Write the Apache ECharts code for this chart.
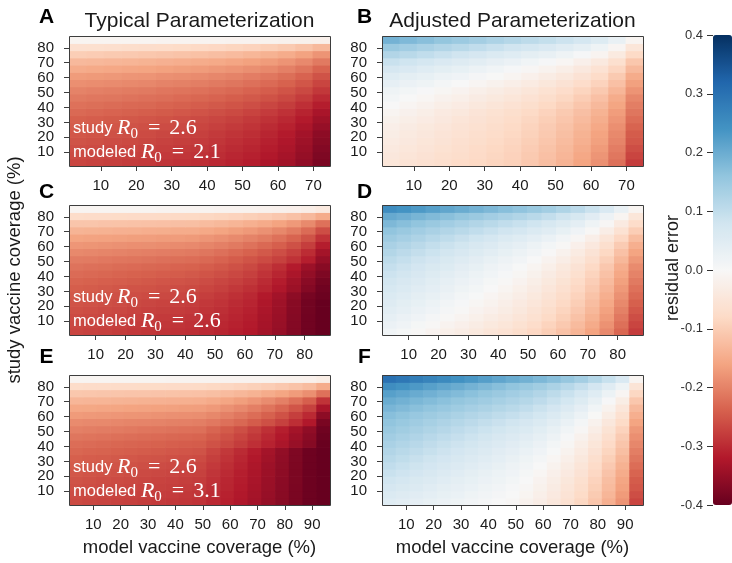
<!DOCTYPE html>
<html><head><meta charset="utf-8">
<script src="https://cdn.jsdelivr.net/npm/echarts@6/dist/echarts.min.js"></script>
<style>html,body{margin:0;padding:0;background:#fff}#c{width:732px;height:563px}</style>
</head><body><div id="c"></div>
<script>
// study vaccine coverage (row centres, %), bottom -> top
const studyCoverage = [3.22, 8.06, 12.90, 17.74, 22.58, 27.41, 32.25, 37.09, 41.93, 46.77, 51.61, 56.45, 61.29, 66.13, 70.96, 75.80, 80.64, 85.48];
// model vaccine coverage (column centres, %)
const modelCoverageAB = [3.46, 8.37, 13.28, 18.19, 23.10, 28.02, 32.93, 37.84, 42.75, 47.67, 52.58, 57.49, 62.40, 67.31, 72.22];
const modelCoverageCD = [3.49, 8.35, 13.21, 18.06, 22.92, 27.78, 32.64, 37.50, 42.35, 47.21, 52.07, 56.93, 61.79, 66.64, 71.50, 76.36, 81.22, 86.07];
const modelCoverageEF = [3.61, 8.63, 13.65, 18.67, 23.69, 28.72, 33.74, 38.76, 43.78, 48.80, 53.82, 58.84, 63.86, 68.88, 73.90, 78.93, 83.95, 88.97, 93.99];

const yTicks = [10, 20, 30, 40, 50, 60, 70, 80];
const xTicksAB = [10, 20, 30, 40, 50, 60, 70];
const xTicksCD = [10, 20, 30, 40, 50, 60, 70, 80];
const xTicksEF = [10, 20, 30, 40, 50, 60, 70, 80, 90];

const studyR0 = '2.6';
const modeledR0 = ['2.1', '2.6', '3.1'];
const titles = ['Typical Parameterization', 'Adjusted Parameterization'];
const letters = ['A', 'B', 'C', 'D', 'E', 'F'];

// residual error, rows bottom -> top
const panelA = [
[-0.27,-0.273,-0.277,-0.28,-0.283,-0.288,-0.292,-0.296,-0.302,-0.309,-0.316,-0.326,-0.338,-0.356,-0.38],
[-0.265,-0.268,-0.272,-0.275,-0.278,-0.283,-0.287,-0.291,-0.297,-0.304,-0.311,-0.321,-0.333,-0.351,-0.375],
[-0.26,-0.263,-0.267,-0.27,-0.273,-0.278,-0.282,-0.286,-0.292,-0.299,-0.306,-0.316,-0.328,-0.346,-0.37],
[-0.255,-0.258,-0.262,-0.265,-0.268,-0.273,-0.277,-0.281,-0.287,-0.294,-0.301,-0.311,-0.323,-0.341,-0.365],
[-0.25,-0.253,-0.257,-0.26,-0.263,-0.268,-0.272,-0.276,-0.282,-0.289,-0.296,-0.306,-0.318,-0.336,-0.36],
[-0.245,-0.248,-0.251,-0.255,-0.258,-0.262,-0.266,-0.27,-0.276,-0.282,-0.289,-0.299,-0.31,-0.327,-0.35],
[-0.24,-0.243,-0.246,-0.249,-0.252,-0.256,-0.26,-0.264,-0.269,-0.275,-0.282,-0.291,-0.302,-0.318,-0.34],
[-0.23,-0.233,-0.236,-0.239,-0.242,-0.246,-0.25,-0.254,-0.259,-0.265,-0.272,-0.281,-0.292,-0.308,-0.33],
[-0.22,-0.223,-0.226,-0.229,-0.231,-0.235,-0.239,-0.243,-0.248,-0.253,-0.26,-0.269,-0.279,-0.294,-0.315],
[-0.21,-0.213,-0.215,-0.218,-0.221,-0.224,-0.228,-0.232,-0.236,-0.242,-0.248,-0.256,-0.266,-0.28,-0.30],
[-0.20,-0.203,-0.205,-0.208,-0.21,-0.214,-0.217,-0.22,-0.225,-0.23,-0.236,-0.243,-0.253,-0.266,-0.285],
[-0.185,-0.188,-0.19,-0.193,-0.195,-0.199,-0.202,-0.205,-0.21,-0.215,-0.221,-0.228,-0.238,-0.251,-0.27],
[-0.17,-0.173,-0.175,-0.178,-0.18,-0.184,-0.187,-0.19,-0.195,-0.2,-0.206,-0.213,-0.223,-0.236,-0.255],
[-0.15,-0.153,-0.155,-0.158,-0.16,-0.164,-0.167,-0.17,-0.175,-0.18,-0.186,-0.193,-0.203,-0.216,-0.235],
[-0.13,-0.132,-0.135,-0.137,-0.14,-0.143,-0.146,-0.149,-0.153,-0.158,-0.164,-0.171,-0.18,-0.192,-0.21],
[-0.10,-0.102,-0.105,-0.107,-0.11,-0.113,-0.116,-0.119,-0.123,-0.128,-0.134,-0.141,-0.15,-0.162,-0.18],
[-0.065,-0.067,-0.069,-0.071,-0.073,-0.075,-0.078,-0.081,-0.084,-0.088,-0.092,-0.098,-0.105,-0.116,-0.13],
[-0.01,-0.01,-0.01,-0.01,-0.01,-0.011,-0.011,-0.012,-0.012,-0.013,-0.014,-0.015,-0.016,-0.018,-0.02]
];
const panelB = [
[-0.05,-0.056,-0.063,-0.069,-0.076,-0.082,-0.089,-0.095,-0.108,-0.123,-0.139,-0.16,-0.184,-0.221,-0.28],
[-0.045,-0.052,-0.059,-0.066,-0.072,-0.079,-0.086,-0.093,-0.105,-0.12,-0.135,-0.155,-0.178,-0.213,-0.27],
[-0.04,-0.047,-0.054,-0.061,-0.069,-0.076,-0.083,-0.09,-0.102,-0.116,-0.131,-0.15,-0.172,-0.206,-0.26],
[-0.035,-0.042,-0.05,-0.057,-0.065,-0.072,-0.08,-0.087,-0.098,-0.111,-0.126,-0.144,-0.165,-0.198,-0.25],
[-0.03,-0.038,-0.045,-0.053,-0.06,-0.068,-0.075,-0.083,-0.094,-0.107,-0.122,-0.14,-0.161,-0.193,-0.245],
[-0.025,-0.033,-0.041,-0.049,-0.056,-0.064,-0.072,-0.08,-0.091,-0.103,-0.117,-0.134,-0.154,-0.185,-0.235],
[-0.018,-0.026,-0.034,-0.042,-0.051,-0.059,-0.067,-0.075,-0.086,-0.098,-0.111,-0.128,-0.147,-0.177,-0.225],
[-0.01,-0.019,-0.027,-0.036,-0.044,-0.053,-0.061,-0.07,-0.08,-0.092,-0.105,-0.121,-0.14,-0.169,-0.215],
[0,-0.009,-0.017,-0.026,-0.034,-0.043,-0.051,-0.06,-0.07,-0.082,-0.095,-0.111,-0.13,-0.159,-0.205],
[0.01,0.001,-0.007,-0.016,-0.024,-0.033,-0.041,-0.05,-0.06,-0.072,-0.085,-0.101,-0.12,-0.149,-0.195],
[0.02,0.011,0.003,-0.006,-0.014,-0.023,-0.031,-0.04,-0.05,-0.061,-0.074,-0.089,-0.107,-0.135,-0.18],
[0.035,0.026,0.018,0.009,0.001,-0.008,-0.016,-0.025,-0.035,-0.046,-0.059,-0.074,-0.092,-0.12,-0.165],
[0.05,0.041,0.033,0.024,0.016,0.007,-0.001,-0.01,-0.02,-0.031,-0.044,-0.059,-0.077,-0.105,-0.15],
[0.07,0.061,0.051,0.042,0.033,0.024,0.014,0.005,-0.005,-0.015,-0.027,-0.042,-0.06,-0.087,-0.13],
[0.09,0.081,0.071,0.062,0.053,0.044,0.034,0.025,0.015,0.005,-0.007,-0.022,-0.04,-0.067,-0.11],
[0.12,0.11,0.10,0.09,0.08,0.07,0.06,0.05,0.041,0.031,0.019,0.005,-0.012,-0.038,-0.08],
[0.15,0.14,0.13,0.12,0.11,0.10,0.09,0.08,0.071,0.061,0.049,0.035,0.018,-0.008,-0.05],
[0.19,0.179,0.169,0.158,0.147,0.137,0.126,0.115,0.106,0.096,0.085,0.071,0.055,0.03,-0.01]
];
const panelC = [
[-0.27,-0.273,-0.276,-0.279,-0.283,-0.286,-0.289,-0.292,-0.295,-0.3,-0.306,-0.313,-0.32,-0.335,-0.35,-0.37,-0.39,-0.40],
[-0.267,-0.27,-0.273,-0.276,-0.28,-0.283,-0.286,-0.289,-0.292,-0.297,-0.303,-0.31,-0.318,-0.333,-0.348,-0.369,-0.389,-0.40],
[-0.263,-0.266,-0.269,-0.272,-0.276,-0.279,-0.282,-0.285,-0.288,-0.294,-0.299,-0.307,-0.315,-0.331,-0.346,-0.368,-0.389,-0.40],
[-0.258,-0.261,-0.264,-0.267,-0.271,-0.274,-0.277,-0.28,-0.283,-0.289,-0.295,-0.303,-0.311,-0.327,-0.344,-0.366,-0.388,-0.40],
[-0.253,-0.256,-0.259,-0.262,-0.266,-0.269,-0.272,-0.275,-0.278,-0.284,-0.29,-0.299,-0.307,-0.324,-0.341,-0.365,-0.388,-0.40],
[-0.248,-0.251,-0.254,-0.257,-0.26,-0.263,-0.266,-0.269,-0.272,-0.278,-0.284,-0.293,-0.302,-0.319,-0.336,-0.359,-0.383,-0.395],
[-0.242,-0.245,-0.248,-0.251,-0.254,-0.256,-0.259,-0.262,-0.265,-0.27,-0.276,-0.284,-0.293,-0.306,-0.323,-0.344,-0.369,-0.39],
[-0.235,-0.238,-0.241,-0.243,-0.246,-0.249,-0.252,-0.254,-0.257,-0.262,-0.269,-0.276,-0.285,-0.299,-0.316,-0.338,-0.363,-0.385],
[-0.227,-0.23,-0.232,-0.235,-0.238,-0.24,-0.243,-0.245,-0.248,-0.253,-0.259,-0.267,-0.276,-0.29,-0.306,-0.328,-0.353,-0.375],
[-0.218,-0.221,-0.223,-0.226,-0.228,-0.231,-0.233,-0.236,-0.238,-0.243,-0.249,-0.257,-0.266,-0.28,-0.296,-0.318,-0.343,-0.365],
[-0.207,-0.209,-0.212,-0.214,-0.216,-0.218,-0.221,-0.223,-0.225,-0.23,-0.236,-0.244,-0.253,-0.263,-0.275,-0.291,-0.313,-0.35],
[-0.193,-0.195,-0.197,-0.199,-0.202,-0.204,-0.206,-0.208,-0.21,-0.215,-0.221,-0.229,-0.238,-0.248,-0.26,-0.276,-0.298,-0.335],
[-0.177,-0.179,-0.181,-0.183,-0.185,-0.186,-0.188,-0.19,-0.192,-0.197,-0.203,-0.21,-0.219,-0.229,-0.241,-0.257,-0.278,-0.315],
[-0.16,-0.162,-0.163,-0.165,-0.167,-0.168,-0.17,-0.171,-0.173,-0.178,-0.184,-0.191,-0.199,-0.208,-0.22,-0.235,-0.255,-0.29],
[-0.138,-0.14,-0.141,-0.143,-0.144,-0.146,-0.147,-0.149,-0.15,-0.154,-0.16,-0.167,-0.174,-0.183,-0.194,-0.208,-0.227,-0.26],
[-0.112,-0.113,-0.115,-0.116,-0.117,-0.118,-0.12,-0.121,-0.122,-0.126,-0.131,-0.137,-0.144,-0.151,-0.161,-0.174,-0.191,-0.22],
[-0.075,-0.076,-0.077,-0.078,-0.079,-0.079,-0.08,-0.081,-0.082,-0.085,-0.088,-0.092,-0.097,-0.102,-0.109,-0.118,-0.13,-0.15],
[-0.01,-0.01,-0.01,-0.01,-0.01,-0.01,-0.011,-0.011,-0.012,-0.012,-0.013,-0.014,-0.015,-0.017,-0.019,-0.022,-0.028,-0.04]
];
const panelD = [
[0.015,0.006,-0.004,-0.013,-0.023,-0.032,-0.041,-0.051,-0.06,-0.071,-0.084,-0.1,-0.117,-0.137,-0.161,-0.192,-0.232,-0.28],
[0.025,0.016,0.006,-0.003,-0.013,-0.022,-0.031,-0.041,-0.05,-0.061,-0.074,-0.09,-0.107,-0.127,-0.151,-0.182,-0.222,-0.27],
[0.035,0.026,0.016,0.007,-0.003,-0.012,-0.021,-0.031,-0.04,-0.051,-0.064,-0.08,-0.097,-0.117,-0.141,-0.172,-0.212,-0.26],
[0.045,0.035,0.026,0.016,0.007,-0.003,-0.013,-0.022,-0.032,-0.043,-0.056,-0.071,-0.089,-0.108,-0.132,-0.163,-0.202,-0.25],
[0.052,0.042,0.033,0.023,0.013,0.004,-0.006,-0.015,-0.025,-0.036,-0.049,-0.064,-0.081,-0.1,-0.124,-0.154,-0.193,-0.24],
[0.06,0.05,0.041,0.031,0.021,0.011,0.002,-0.008,-0.018,-0.029,-0.041,-0.056,-0.073,-0.092,-0.116,-0.145,-0.183,-0.23],
[0.068,0.058,0.049,0.039,0.029,0.019,0.01,0.0,-0.01,-0.021,-0.033,-0.048,-0.065,-0.084,-0.107,-0.136,-0.174,-0.22],
[0.076,0.066,0.056,0.046,0.036,0.026,0.016,0.006,-0.004,-0.014,-0.027,-0.041,-0.058,-0.076,-0.099,-0.128,-0.165,-0.21],
[0.085,0.075,0.065,0.055,0.045,0.034,0.024,0.014,0.004,-0.006,-0.018,-0.033,-0.049,-0.067,-0.09,-0.118,-0.155,-0.2],
[0.095,0.085,0.074,0.064,0.054,0.043,0.033,0.022,0.012,0.002,-0.01,-0.024,-0.041,-0.059,-0.081,-0.109,-0.146,-0.19],
[0.105,0.095,0.084,0.074,0.064,0.053,0.043,0.032,0.022,0.012,0.0,-0.013,-0.029,-0.047,-0.069,-0.096,-0.132,-0.175],
[0.118,0.107,0.097,0.086,0.076,0.065,0.054,0.044,0.033,0.023,0.012,-0.002,-0.017,-0.035,-0.056,-0.083,-0.118,-0.16],
[0.13,0.119,0.109,0.098,0.088,0.077,0.066,0.056,0.045,0.036,0.024,0.011,-0.004,-0.022,-0.042,-0.069,-0.103,-0.145],
[0.145,0.134,0.124,0.113,0.103,0.092,0.081,0.071,0.06,0.051,0.04,0.027,0.012,-0.005,-0.025,-0.051,-0.084,-0.125],
[0.16,0.15,0.14,0.13,0.12,0.11,0.10,0.09,0.08,0.071,0.06,0.048,0.033,0.017,-0.003,-0.028,-0.06,-0.1],
[0.18,0.17,0.16,0.15,0.14,0.13,0.12,0.11,0.10,0.091,0.081,0.068,0.054,0.039,0.019,-0.005,-0.037,-0.075],
[0.205,0.196,0.186,0.177,0.168,0.158,0.149,0.139,0.13,0.121,0.11,0.098,0.083,0.067,0.047,0.022,-0.01,-0.05],
[0.25,0.24,0.23,0.22,0.21,0.20,0.19,0.18,0.17,0.161,0.15,0.138,0.123,0.107,0.087,0.062,0.03,-0.01]
];
const panelE = [
[-0.265,-0.268,-0.271,-0.273,-0.276,-0.279,-0.282,-0.284,-0.287,-0.29,-0.301,-0.312,-0.323,-0.336,-0.351,-0.365,-0.38,-0.395,-0.40],
[-0.262,-0.265,-0.268,-0.27,-0.273,-0.276,-0.279,-0.281,-0.284,-0.287,-0.298,-0.31,-0.321,-0.334,-0.349,-0.364,-0.38,-0.394,-0.40],
[-0.258,-0.261,-0.264,-0.266,-0.269,-0.272,-0.275,-0.277,-0.28,-0.283,-0.295,-0.306,-0.318,-0.332,-0.347,-0.363,-0.379,-0.394,-0.40],
[-0.255,-0.258,-0.261,-0.263,-0.266,-0.269,-0.272,-0.274,-0.277,-0.28,-0.292,-0.304,-0.316,-0.33,-0.346,-0.362,-0.378,-0.394,-0.40],
[-0.25,-0.253,-0.256,-0.258,-0.261,-0.264,-0.267,-0.269,-0.272,-0.275,-0.288,-0.3,-0.313,-0.328,-0.344,-0.36,-0.378,-0.394,-0.40],
[-0.245,-0.248,-0.251,-0.253,-0.256,-0.259,-0.262,-0.264,-0.267,-0.27,-0.283,-0.296,-0.309,-0.325,-0.342,-0.358,-0.377,-0.394,-0.40],
[-0.24,-0.243,-0.245,-0.248,-0.25,-0.253,-0.255,-0.258,-0.26,-0.263,-0.277,-0.29,-0.304,-0.321,-0.338,-0.356,-0.375,-0.393,-0.40],
[-0.232,-0.235,-0.237,-0.24,-0.242,-0.245,-0.247,-0.25,-0.252,-0.255,-0.27,-0.284,-0.299,-0.316,-0.335,-0.354,-0.374,-0.393,-0.40],
[-0.225,-0.227,-0.229,-0.232,-0.234,-0.236,-0.238,-0.241,-0.243,-0.245,-0.256,-0.266,-0.279,-0.294,-0.309,-0.328,-0.348,-0.367,-0.398],
[-0.215,-0.217,-0.219,-0.222,-0.224,-0.226,-0.228,-0.231,-0.233,-0.235,-0.246,-0.257,-0.27,-0.286,-0.302,-0.321,-0.342,-0.363,-0.395],
[-0.203,-0.205,-0.207,-0.209,-0.211,-0.214,-0.216,-0.218,-0.22,-0.222,-0.234,-0.246,-0.259,-0.276,-0.293,-0.313,-0.335,-0.356,-0.39],
[-0.19,-0.192,-0.193,-0.195,-0.197,-0.198,-0.2,-0.202,-0.203,-0.205,-0.212,-0.221,-0.231,-0.244,-0.258,-0.275,-0.296,-0.321,-0.38],
[-0.172,-0.174,-0.175,-0.177,-0.179,-0.18,-0.182,-0.184,-0.185,-0.187,-0.194,-0.203,-0.213,-0.225,-0.239,-0.256,-0.277,-0.301,-0.36],
[-0.155,-0.156,-0.158,-0.159,-0.161,-0.162,-0.164,-0.165,-0.167,-0.168,-0.174,-0.183,-0.192,-0.204,-0.217,-0.233,-0.252,-0.275,-0.33],
[-0.135,-0.136,-0.137,-0.138,-0.139,-0.141,-0.142,-0.143,-0.144,-0.145,-0.151,-0.158,-0.167,-0.177,-0.189,-0.203,-0.22,-0.241,-0.29],
[-0.11,-0.111,-0.112,-0.113,-0.114,-0.114,-0.115,-0.116,-0.117,-0.118,-0.122,-0.127,-0.133,-0.14,-0.149,-0.159,-0.171,-0.185,-0.22],
[-0.075,-0.076,-0.076,-0.077,-0.077,-0.078,-0.078,-0.079,-0.079,-0.08,-0.083,-0.086,-0.091,-0.095,-0.101,-0.108,-0.116,-0.126,-0.15],
[-0.01,-0.01,-0.01,-0.01,-0.01,-0.01,-0.01,-0.011,-0.011,-0.012,-0.012,-0.013,-0.013,-0.014,-0.015,-0.016,-0.018,-0.02,-0.03]
];
const panelF = [
[0.05,0.044,0.038,0.032,0.026,0.019,0.013,0.007,0.001,-0.005,-0.016,-0.029,-0.045,-0.063,-0.085,-0.111,-0.143,-0.18,-0.27],
[0.06,0.053,0.047,0.04,0.033,0.027,0.02,0.013,0.007,0.0,-0.01,-0.023,-0.039,-0.057,-0.078,-0.104,-0.135,-0.172,-0.26],
[0.07,0.063,0.056,0.048,0.041,0.034,0.027,0.019,0.012,0.005,-0.005,-0.018,-0.033,-0.051,-0.072,-0.097,-0.128,-0.163,-0.25],
[0.08,0.072,0.064,0.057,0.049,0.041,0.033,0.026,0.018,0.01,0.0,-0.013,-0.028,-0.046,-0.067,-0.092,-0.123,-0.158,-0.245],
[0.09,0.082,0.074,0.065,0.057,0.049,0.041,0.032,0.024,0.016,0.006,-0.007,-0.022,-0.039,-0.059,-0.084,-0.115,-0.15,-0.235],
[0.1,0.091,0.083,0.074,0.065,0.057,0.048,0.039,0.031,0.022,0.012,0.0,-0.015,-0.032,-0.052,-0.077,-0.106,-0.141,-0.225],
[0.11,0.101,0.092,0.083,0.074,0.066,0.057,0.048,0.039,0.03,0.02,0.008,-0.007,-0.024,-0.044,-0.068,-0.097,-0.132,-0.215],
[0.12,0.111,0.102,0.093,0.084,0.074,0.065,0.056,0.047,0.038,0.028,0.016,0.002,-0.015,-0.035,-0.059,-0.088,-0.122,-0.205],
[0.13,0.121,0.112,0.102,0.093,0.084,0.075,0.065,0.056,0.047,0.037,0.025,0.011,-0.006,-0.026,-0.05,-0.079,-0.113,-0.195],
[0.14,0.131,0.122,0.112,0.103,0.094,0.085,0.075,0.066,0.057,0.047,0.035,0.021,0.004,-0.016,-0.04,-0.069,-0.103,-0.185],
[0.15,0.141,0.132,0.123,0.114,0.104,0.095,0.086,0.077,0.068,0.058,0.046,0.032,0.015,-0.005,-0.029,-0.058,-0.092,-0.175],
[0.16,0.151,0.142,0.133,0.124,0.116,0.107,0.098,0.089,0.08,0.07,0.058,0.044,0.027,0.008,-0.016,-0.045,-0.078,-0.16],
[0.17,0.162,0.153,0.145,0.137,0.128,0.12,0.112,0.103,0.095,0.085,0.073,0.059,0.042,0.023,-0.001,-0.03,-0.063,-0.145],
[0.185,0.177,0.168,0.16,0.152,0.143,0.135,0.127,0.118,0.11,0.1,0.088,0.074,0.057,0.038,0.014,-0.015,-0.048,-0.13],
[0.2,0.192,0.183,0.175,0.167,0.158,0.15,0.142,0.133,0.125,0.116,0.104,0.09,0.073,0.055,0.031,0.003,-0.03,-0.11],
[0.22,0.211,0.202,0.193,0.184,0.176,0.167,0.158,0.149,0.14,0.131,0.12,0.106,0.09,0.072,0.05,0.023,-0.009,-0.085],
[0.25,0.24,0.23,0.22,0.21,0.2,0.19,0.18,0.17,0.16,0.151,0.141,0.128,0.113,0.095,0.074,0.048,0.018,-0.055],
[0.3,0.289,0.278,0.267,0.256,0.244,0.233,0.222,0.211,0.2,0.192,0.181,0.169,0.154,0.137,0.116,0.091,0.061,-0.01]
];

const rdbu = ['#67001f','#b2182b','#d6604d','#f4a582','#fddbc7','#f7f7f7','#d1e5f0','#92c5de','#4393c3','#2166ac','#053061'];
const cbMin = -0.4, cbMax = 0.4, cbStep = 0.1;

const SANS = '"Liberation Sans", Arial, Helvetica, sans-serif';
const SERIF = '"Liberation Serif", "Times New Roman", serif';
const INK = '#1a1a1a';
const FRAME = '#3d3d3d';

const colL = 69, colR = 382, pw = 261, ph = 130;
const rowTops = [36, 205, 375];
const panels = [
  {data: panelA, xs: modelCoverageAB, ticks: xTicksAB, left: colL, top: rowTops[0]},
  {data: panelB, xs: modelCoverageAB, ticks: xTicksAB, left: colR, top: rowTops[0]},
  {data: panelC, xs: modelCoverageCD, ticks: xTicksCD, left: colL, top: rowTops[1]},
  {data: panelD, xs: modelCoverageCD, ticks: xTicksCD, left: colR, top: rowTops[1]},
  {data: panelE, xs: modelCoverageEF, ticks: xTicksEF, left: colL, top: rowTops[2]},
  {data: panelF, xs: modelCoverageEF, ticks: xTicksEF, left: colR, top: rowTops[2]}
];

const ys = studyCoverage;
const cellH = (ys[ys.length - 1] - ys[0]) / (ys.length - 1);
const yMin = ys[0] - cellH / 2, yMax = ys[ys.length - 1] + cellH / 2;

const grid = [], xAxis = [], yAxis = [], series = [], graphic = [];
const tickLine = {color: FRAME, width: 1};

panels.forEach((p, i) => {
  const cellW = (p.xs[p.xs.length - 1] - p.xs[0]) / (p.xs.length - 1);
  const xMin = p.xs[0] - cellW / 2, xMax = p.xs[p.xs.length - 1] + cellW / 2;
  grid.push({left: p.left, top: p.top, width: pw, height: ph});
  xAxis.push({
    gridIndex: i, type: 'value', min: xMin, max: xMax,
    axisLine: {show: false},
    axisTick: {show: true, length: 5, lineStyle: tickLine, customValues: p.ticks},
    axisLabel: {customValues: p.ticks, margin: 12, fontSize: 15, color: INK, fontFamily: SANS},
    splitLine: {show: false}
  });
  yAxis.push({
    gridIndex: i, type: 'value', min: yMin, max: yMax,
    axisLine: {show: false},
    axisTick: {show: true, length: 5, lineStyle: tickLine, customValues: yTicks},
    axisLabel: {customValues: yTicks, margin: 15, fontSize: 15, color: INK, fontFamily: SANS},
    splitLine: {show: false}
  });
  const items = [];
  p.data.forEach((row, r) => row.forEach((v, c) => items.push([p.xs[c], ys[r], v])));
  series.push({
    type: 'custom', xAxisIndex: i, yAxisIndex: i, silent: true, clip: true, progressive: 0,
    data: items,
    encode: {x: 0, y: 1},
    renderItem: function (params, api) {
      const x = api.value(0), y = api.value(1);
      const p0 = api.coord([x - cellW / 2, y + cellH / 2]);
      const p1 = api.coord([x + cellW / 2, y - cellH / 2]);
      return {
        type: 'rect',
        shape: {x: p0[0], y: p0[1], width: p1[0] - p0[0] + 0.7, height: p1[1] - p0[1] + 0.7},
        style: {fill: api.visual('color')}
      };
    }
  });
  graphic.push({
    type: 'rect', z: 50, silent: true,
    shape: {x: p.left + 0.5, y: p.top + 0.5, width: pw, height: ph},
    style: {fill: 'none', stroke: FRAME, lineWidth: 1}
  });
});

// colour bar axis
const cbLeft = 713, cbTop = 35, cbHeight = 470;
grid.push({left: cbLeft, top: cbTop, width: 19, height: cbHeight});
xAxis.push({gridIndex: 6, type: 'value', show: false});
yAxis.push({
  gridIndex: 6, type: 'value', min: cbMin, max: cbMax, interval: cbStep, position: 'left',
  axisLine: {show: false},
  axisTick: {show: true, length: 6, lineStyle: {color: '#333', width: 1}},
  axisLabel: {margin: 10, fontSize: 13, color: '#333', fontFamily: SANS,
    formatter: v => (Math.abs(v) < 1e-9 ? 0 : v).toFixed(1)},
  splitLine: {show: false}
});

// titles & panel letters
graphic.push({type: 'text', x: colL + pw / 2, y: 21, style: {text: titles[0], font: '21px ' + SANS, fill: INK, align: 'center', verticalAlign: 'middle'}});
graphic.push({type: 'text', x: colR + pw / 2, y: 21, style: {text: titles[1], font: '21px ' + SANS, fill: INK, align: 'center', verticalAlign: 'middle'}});
const letterPos = [[46.5, 17], [364.5, 17], [46.5, 192], [364.5, 192], [46.5, 357.5], [364.5, 357.5]];
letters.forEach((L, i) => graphic.push({type: 'text', x: letterPos[i][0], y: letterPos[i][1],
  style: {text: L, font: 'bold 21px ' + SANS, fill: '#000', align: 'center', verticalAlign: 'middle'}}));

// annotations in left panels
const rich = {
  s: {fontFamily: SANS, fontSize: 16.5, fill: '#fff', lineHeight: 22},
  r: {fontFamily: SERIF, fontStyle: 'italic', fontSize: 22, fill: '#fff', lineHeight: 22},
  z: {fontFamily: SERIF, fontSize: 15, fill: '#fff', lineHeight: 10, padding: [12, 0, 0, 0]},
  e: {fontFamily: SERIF, fontSize: 22, fill: '#fff', lineHeight: 22, padding: [0, 9, 0, 10]},
  m: {fontFamily: SERIF, fontSize: 22, fill: '#fff', lineHeight: 22}
};
rowTops.forEach((t, k) => {
  graphic.push({type: 'text', x: colL + 4, y: t + 92, z: 60, style: {text: '{s|study }{r|R}{z|0}{e|=}{m|' + studyR0 + '}', rich: rich, verticalAlign: 'middle', align: 'left'}});
  graphic.push({type: 'text', x: colL + 4, y: t + 116, z: 60, style: {text: '{s|modeled }{r|R}{z|0}{e|=}{m|' + modeledR0[k] + '}', rich: rich, verticalAlign: 'middle', align: 'left'}});
});

// axis titles
graphic.push({type: 'text', x: 15, y: 270, rotation: Math.PI / 2, style: {text: 'study vaccine coverage (%)', font: '18.5px ' + SANS, fill: INK, align: 'center', verticalAlign: 'middle'}});
graphic.push({type: 'text', x: colL + pw / 2, y: 548, style: {text: 'model vaccine coverage (%)', font: '18.5px ' + SANS, fill: INK, align: 'center', verticalAlign: 'middle'}});
graphic.push({type: 'text', x: colR + pw / 2, y: 548, style: {text: 'model vaccine coverage (%)', font: '18.5px ' + SANS, fill: INK, align: 'center', verticalAlign: 'middle'}});
graphic.push({type: 'text', x: 673, y: 268, rotation: Math.PI / 2, style: {text: 'residual error', font: '18px ' + SANS, fill: INK, align: 'center', verticalAlign: 'middle'}});

const chart = echarts.init(document.getElementById('c'), null, {renderer: 'canvas'});
chart.setOption({
  animation: false,
  backgroundColor: '#fff',
  grid: grid, xAxis: xAxis, yAxis: yAxis, series: series,
  visualMap: {
    type: 'continuous', min: cbMin, max: cbMax, seriesIndex: [0, 1, 2, 3, 4, 5], dimension: 2,
    inRange: {color: rdbu}, calculable: false, orient: 'vertical',
    left: cbLeft, top: cbTop, itemWidth: 19, itemHeight: cbHeight, padding: 0,
    hoverLink: false, text: null
  },
  graphic: graphic
});
</script></body></html>
